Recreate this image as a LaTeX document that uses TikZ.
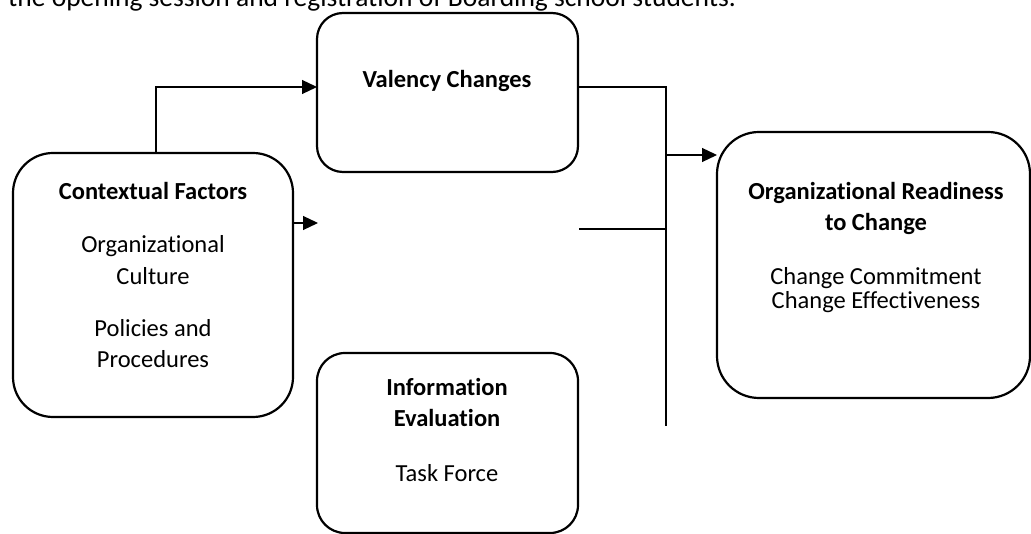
\documentclass[tikz,border=0pt]{standalone}
\usepackage{fontspec}
\setmainfont{Carlito}[Ligatures=NoCommon]
\usetikzlibrary{arrows.meta,calc}
\tikzset{
  boxnode/.style={draw=black, line width=2.2pt, inner sep=0pt, outer sep=0pt, rounded corners=#1},
  txt/.style={anchor=base, inner sep=0pt, font=\fontsize{24.5}{29}\selectfont},
  btxt/.style={txt, font=\fontsize{24.5}{29}\selectfont\bfseries},
  captxt/.style={anchor=base west, inner sep=0pt, font=\fontsize{27.5}{33}\selectfont},
  conn/.style={draw=black, line width=1.2pt},
  arrowconn/.style={conn, -{Triangle[length=15pt,width=14pt]}}
}
\begin{document}
\begin{tikzpicture}[x=1pt,y=-1pt]
\useasboundingbox (0,0) rectangle (1031,534);
% clipped caption line at the top
\node[captxt] (cap) at (8,7) {the opening session and registration of Boarding school students.};
% boxes
\node[boxnode=26pt, minimum width=261pt, minimum height=159pt] (vc) at (447.5,92.5) {};
\node[boxnode=40pt, minimum width=280pt, minimum height=264pt] (cf) at (153,285) {};
\node[boxnode=28pt, minimum width=261pt, minimum height=180pt] (ie) at (447.5,443) {};
\node[boxnode=42pt, minimum width=313pt, minimum height=266pt] (orc) at (873.5,265) {};
% texts
\node[btxt] (vct) at (447,88) {Valency Changes};
\node[btxt] (cft1) at (153,200) {Contextual Factors};
\node[txt] (cft2) at (153,253) {Organizational};
\node[txt] (cft3) at (153,285) {Culture};
\node[txt] (cft4) at (153,337) {Policies and};
\node[txt] (cft5) at (153,368) {Procedures};
\node[btxt] (iet1) at (447,396) {Information};
\node[btxt] (iet2) at (447,427) {Evaluation};
\node[txt] (iet3) at (447,481) {Task Force};
\node[btxt] (orct1) at (876,200) {Organizational Readiness};
\node[btxt] (orct2) at (876,231) {to Change};
\node[txt] (orct3) at (876,285) {Change Commitment};
\node[txt] (orct4) at (876,309) {Change Effectiveness};
% connector coordinates
\coordinate (gap) at (318,223);
\coordinate (jb) at (666,426);
\coordinate (ja) at (666,155);
\coordinate (lw) at (579,229);
% connectors
\draw[arrowconn] ([xshift=3pt]cf.north) |- ([yshift=5.5pt]vc.west);
\draw[arrowconn] (cf.east |- gap) -- (gap);
\draw[conn] ([yshift=5.5pt]vc.east) -| (jb);
\draw[conn] (lw) -- (lw -| jb);
\draw[arrowconn] (ja) -- (orc.west |- ja);
\end{tikzpicture}
\end{document}
